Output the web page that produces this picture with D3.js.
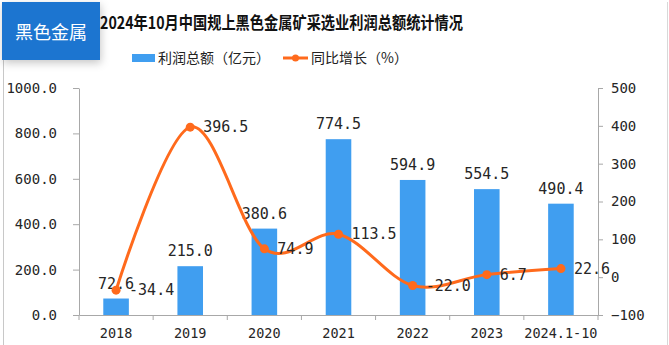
<!DOCTYPE html>
<html>
<head>
<meta charset="utf-8">
<script src="https://cdn.jsdelivr.net/npm/d3@7"></script>
<style>
  html, body { margin: 0; padding: 0; background: #fff; }
  svg { display: block; }
  .num { font-family: "DejaVu Sans Mono", monospace; fill: #262626; }
  .cjk { font-family: "Noto Sans CJK SC", sans-serif; }
</style>
</head>
<body>
<div id="chart"></div>
<script>
// profit of ferrous metal mining, yearly
const years = ["2018", "2019", "2020", "2021", "2022", "2023", "2024.1-10"];
const profit = [72.6, 215.0, 380.6, 774.5, 594.9, 554.5, 490.4];   // 亿元
const growth = [-34.4, 396.5, 74.9, 113.5, -22.0, 6.7, 22.6];      // %
const leftTicks = [0, 200, 400, 600, 800, 1000];
const rightTicks = [-100, 0, 100, 200, 300, 400, 500];

const width = 669, height = 345;
const plot = { left: 79, right: 598, top: 88, bottom: 315 };
const barColor = "#409ef0";
const lineColor = "#ff6a1c";
const axisColor = "#a8a8a8";

const svg = d3.select("#chart").append("svg")
  .attr("width", width)
  .attr("height", height);

const defs = svg.append("defs");
defs.append("filter")
  .attr("id", "badge-shadow")
  .attr("x", "-20%").attr("y", "-20%")
  .attr("width", "140%").attr("height", "160%")
  .append("feDropShadow")
  .attr("dx", 1).attr("dy", 3)
  .attr("stdDeviation", 4)
  .attr("flood-color", "#000")
  .attr("flood-opacity", 0.22);

// outer frame lines
svg.append("line")
  .attr("x1", 3.5).attr("x2", 3.5).attr("y1", 58).attr("y2", height)
  .attr("stroke", "#c8c8c8");
svg.append("line")
  .attr("x1", 667.5).attr("x2", 667.5).attr("y1", 2).attr("y2", height)
  .attr("stroke", "#d8d8d8");

// badge
svg.append("rect")
  .attr("x", 2).attr("y", 2)
  .attr("width", 98).attr("height", 58)
  .attr("fill", "#1f75d0")
  .attr("filter", "url(#badge-shadow)");
svg.append("text")
  .attr("class", "cjk")
  .attr("x", 51).attr("y", 33)
  .attr("dy", "0.35em")
  .attr("text-anchor", "middle")
  .attr("fill", "#fff")
  .attr("font-size", 18)
  .text("黑色金属");

// title
svg.append("text")
  .attr("class", "cjk")
  .attr("x", 100).attr("y", 29)
  .attr("textLength", 363)
  .attr("lengthAdjust", "spacingAndGlyphs")
  .attr("font-size", 17)
  .attr("font-weight", 700)
  .attr("fill", "#111")
  .text("2024年10月中国规上黑色金属矿采选业利润总额统计情况");

// legend
const legend = svg.append("g").attr("class", "cjk").attr("font-size", 14).attr("fill", "#222");
legend.append("rect")
  .attr("x", 132).attr("y", 54).attr("width", 23).attr("height", 8)
  .attr("fill", barColor);
legend.append("text")
  .attr("x", 158).attr("y", 58).attr("dy", "0.35em")
  .text("利润总额（亿元）");
legend.append("line")
  .attr("x1", 283).attr("x2", 308).attr("y1", 58).attr("y2", 58)
  .attr("stroke", lineColor).attr("stroke-width", 3);
legend.append("circle")
  .attr("cx", 295.5).attr("cy", 58).attr("r", 3.5)
  .attr("fill", lineColor);
legend.append("text")
  .attr("x", 311).attr("y", 58).attr("dy", "0.35em")
  .text("同比增长（%）");

// scales
const x = d3.scaleBand()
  .domain(years)
  .range([plot.left, plot.right])
  .paddingInner(0.655)
  .paddingOuter(0.3275);
const yL = d3.scaleLinear().domain([0, 1000]).range([plot.bottom, plot.top]);
const yR = d3.scaleLinear().domain([-100, 500]).range([plot.bottom, plot.top]);
const cx = d => x(d) + x.bandwidth() / 2;

function styleAxis(g) {
  g.select(".domain").attr("stroke", axisColor);
  g.selectAll(".tick line").attr("stroke", axisColor);
  g.selectAll(".tick text").attr("class", "num");
}

// left axis
svg.append("g")
  .attr("transform", `translate(${plot.left},0)`)
  .call(d3.axisLeft(yL).tickValues(leftTicks).tickFormat(d3.format(".1f"))
    .tickSize(6).tickSizeOuter(0).tickPadding(16))
  .call(styleAxis)
  .call(g => g.selectAll(".tick text").attr("font-size", 14));

// right axis
svg.append("g")
  .attr("transform", `translate(${plot.right},0)`)
  .call(d3.axisRight(yR).tickValues(rightTicks).tickFormat(d3.format("d"))
    .tickSize(5).tickSizeOuter(0).tickPadding(8))
  .call(styleAxis)
  .call(g => g.selectAll(".tick text").attr("font-size", 14));

// bars
svg.append("g")
  .selectAll("rect")
  .data(years)
  .join("rect")
  .attr("x", d => x(d))
  .attr("width", x.bandwidth())
  .attr("y", (d, i) => yL(profit[i]))
  .attr("height", (d, i) => yL(0) - yL(profit[i]))
  .attr("fill", barColor);

// bottom axis: labels at band centres, ticks at band boundaries
const xAxis = svg.append("g")
  .attr("transform", `translate(0,${plot.bottom})`)
  .call(d3.axisBottom(x).tickSize(0).tickSizeOuter(0).tickPadding(13))
  .call(styleAxis)
  .call(g => g.selectAll(".tick text").attr("font-size", 13.5));
xAxis.selectAll("line.sep")
  .data(d3.range(years.length + 1))
  .join("line")
  .attr("class", "sep")
  .attr("x1", i => plot.left + i * x.step())
  .attr("x2", i => plot.left + i * x.step())
  .attr("y1", 0).attr("y2", 5)
  .attr("stroke", axisColor);

// bar value labels
svg.append("g")
  .selectAll("text")
  .data(years)
  .join("text")
  .attr("class", "num")
  .attr("font-size", 15)
  .attr("text-anchor", "middle")
  .attr("x", d => cx(d))
  .attr("y", (d, i) => yL(profit[i]) - 10)
  .text((d, i) => profit[i].toFixed(1));

// growth line
const pts = years.map((d, i) => [cx(d), yR(growth[i])]);
svg.append("path")
  .datum(pts)
  .attr("fill", "none")
  .attr("stroke", lineColor)
  .attr("stroke-width", 3)
  .attr("d", d3.line().curve(d3.curveCardinal.tension(0)));

svg.append("g")
  .selectAll("circle")
  .data(pts)
  .join("circle")
  .attr("cx", d => d[0])
  .attr("cy", d => d[1])
  .attr("r", 4.5)
  .attr("fill", lineColor);

svg.append("g")
  .selectAll("text")
  .data(pts)
  .join("text")
  .attr("class", "num")
  .attr("font-size", 15)
  .attr("x", d => d[0] + 13)
  .attr("y", d => d[1])
  .attr("dy", "0.35em")
  .text((d, i) => growth[i].toFixed(1));
</script>
</body>
</html>
